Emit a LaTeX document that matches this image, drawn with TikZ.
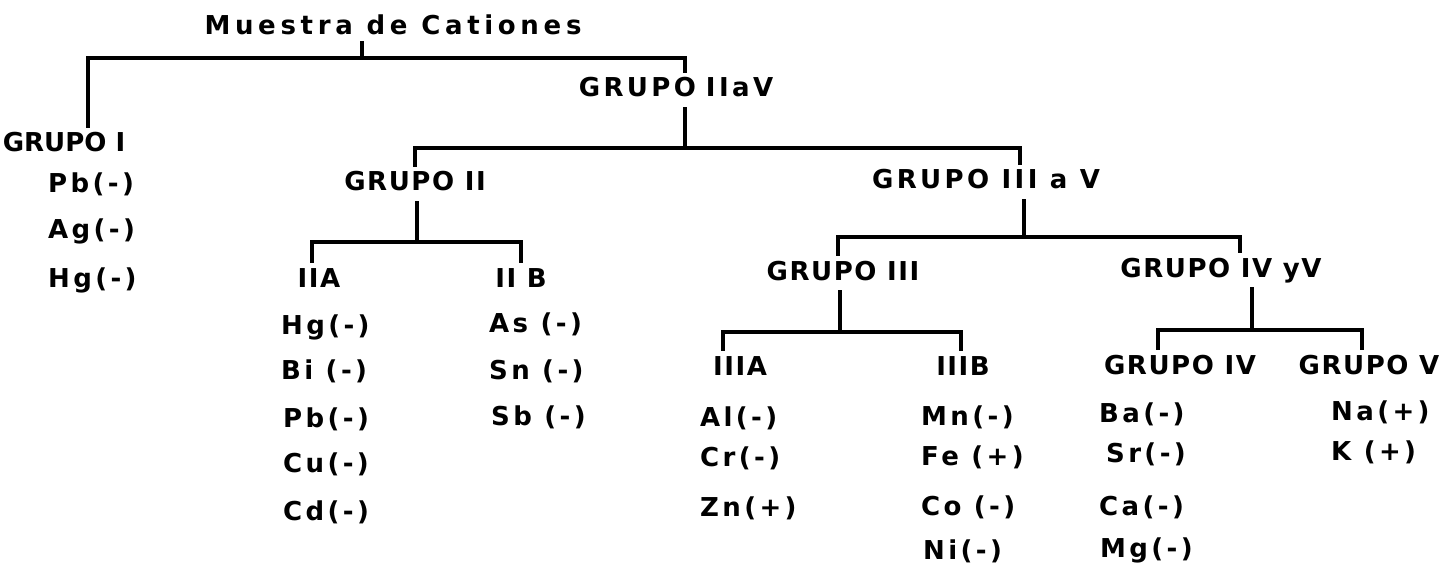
\documentclass[tikz,border=0pt]{standalone}
\usepackage{fontspec}
\newfontfamily\lblfont[LetterSpace=6]{DejaVu Sans}
\newfontfamily\widefont[LetterSpace=13]{DejaVu Sans}
\newfontfamily\tightfont[LetterSpace=0]{DejaVu Sans}
\newfontfamily\lstfont[LetterSpace=13]{DejaVu Sans}
\newfontfamily\ttlfont[LetterSpace=18]{DejaVu Sans}
\begin{document}
\begin{tikzpicture}[x=1pt,y=-1pt,
  hdr/.style={inner sep=0pt,outer sep=7pt,text height=19pt,text depth=5pt,
    font=\lblfont\bfseries\fontsize{26}{30}\selectfont},
  hdrw/.style={hdr,font=\widefont\bfseries\fontsize{26}{30}\selectfont},
  hdrn/.style={hdr,font=\tightfont\bfseries\fontsize{26}{30}\selectfont},
  ttl/.style={hdr,outer sep=3pt,font=\ttlfont\bfseries\fontsize{26}{30}\selectfont},
  itm/.style={inner sep=0pt,anchor=west,text height=19pt,text depth=5pt,
    font=\lstfont\bfseries\fontsize{26}{30}\selectfont},
  conn/.style={line width=3.2pt,line cap=rect}]
\useasboundingbox (0,0) rectangle (1447,569);
% headers
\node[ttl] (muestra) at (393,28) {Muestra de Cationes};
\node[hdrn] (g1) at (64,145) {GRUPO I};
\node[hdrw] (g25) at (676,90) {GRUPO\hspace{10pt}IIaV};
\node[hdr] (g2) at (415,184) {GRUPO II};
\node[hdrw] (g35) at (986,182) {GRUPO III a V};
\node[hdr] (g2a) at (319,280) {IIA};
\node[hdr] (g2b) at (521,280) {II B};
\node[hdr] (g3) at (843,273) {GRUPO III};
\node[hdr] (g45) at (1221,270) {GRUPO IV yV};
\node[hdr] (g3a) at (740,368) {IIIA};
\node[hdr] (g3b) at (963,368) {IIIB};
\node[hdr] (g4) at (1180,367) {GRUPO IV};
\node[hdr] (g5) at (1369,367) {GRUPO V};
% lists
\node[itm] (pb1) at (48,186) {Pb(-)};
\node[itm] (ag1) at (48,232) {Ag(-)};
\node[itm] (hg1) at (48,280) {Hg(-)};
\node[itm] (hg2) at (281,327) {Hg(-)};
\node[itm] (bi2) at (281,372) {Bi (-)};
\node[itm] (pb2) at (283,420) {Pb(-)};
\node[itm] (cu2) at (283,465) {Cu(-)};
\node[itm] (cd2) at (283,513) {Cd(-)};
\node[itm] (as2) at (489,325) {As (-)};
\node[itm] (sn2) at (489,372) {Sn (-)};
\node[itm] (sb2) at (491,418) {Sb (-)};
\node[itm] (al3) at (700,419) {Al(-)};
\node[itm] (cr3) at (700,459) {Cr(-)};
\node[itm] (zn3) at (700,509) {Zn(+)};
\node[itm] (mn3) at (921,418) {Mn(-)};
\node[itm] (fe3) at (921,458) {Fe (+)};
\node[itm] (co3) at (921,508) {Co (-)};
\node[itm] (ni3) at (923,552) {Ni(-)};
\node[itm] (ba4) at (1099,415) {Ba(-)};
\node[itm] (sr4) at (1106,455) {Sr(-)};
\node[itm] (ca4) at (1099,508) {Ca(-)};
\node[itm] (mg4) at (1100,550) {Mg(-)};
\node[itm] (na5) at (1331,413) {Na(+)};
\node[itm] (k5) at (1331,453) {K (+)};
% bracket coordinates
\coordinate (j0) at (362,58);  \coordinate (l0) at (88,58);   \coordinate (r0) at (685,58);
\coordinate (j1) at (685,148); \coordinate (l1) at (415,148);  \coordinate (r1) at (1020,148);
\coordinate (j2) at (417,242); \coordinate (l2) at (312,242);  \coordinate (r2) at (521,242);
\coordinate (j3) at (1024,237);\coordinate (l3) at (838,237);  \coordinate (r3) at (1240,237);
\coordinate (j4) at (840,332); \coordinate (l4) at (723,332);  \coordinate (r4) at (961,332);
\coordinate (j5) at (1252,330);\coordinate (l5) at (1158,330); \coordinate (r5) at (1362,330);
% connectors
\draw[conn] (muestra.south -| j0) -- (j0);
\draw[conn] (g1.north -| l0) -- (l0) -- (r0) -- (g25.north -| r0);
\draw[conn] (g25.south -| j1) -- (j1);
\draw[conn] (g2.north -| l1) -- (l1) -- (r1) -- (g35.north -| r1);
\draw[conn] (g2.south -| j2) -- (j2);
\draw[conn] (g2a.north -| l2) -- (l2) -- (r2) -- (g2b.north -| r2);
\draw[conn] (g35.south -| j3) -- (j3);
\draw[conn] (g3.north -| l3) -- (l3) -- (r3) -- (g45.north -| r3);
\draw[conn] (g3.south -| j4) -- (j4);
\draw[conn] (g3a.north -| l4) -- (l4) -- (r4) -- (g3b.north -| r4);
\draw[conn] (g45.south -| j5) -- (j5);
\draw[conn] (g4.north -| l5) -- (l5) -- (r5) -- (g5.north -| r5);
\end{tikzpicture}
\end{document}
